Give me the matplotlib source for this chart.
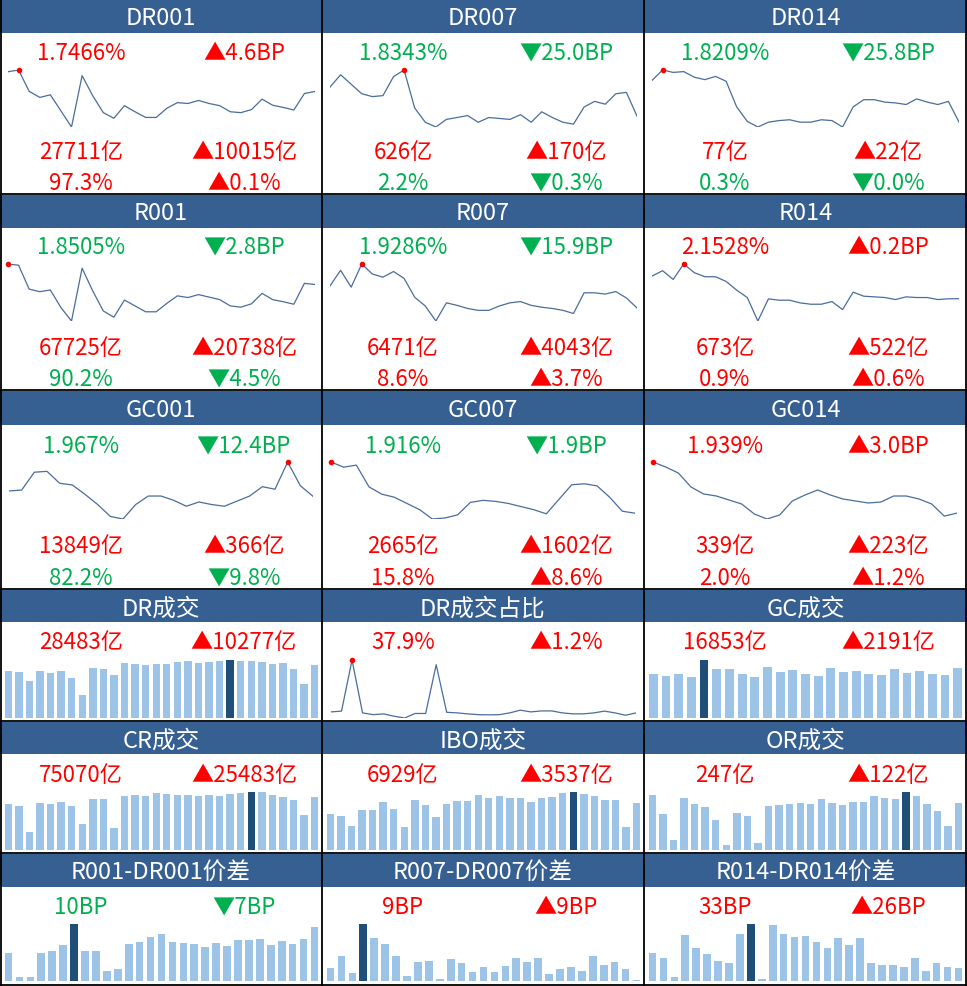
import numpy as np
import matplotlib
matplotlib.use('Agg')
import matplotlib.pyplot as plt
from matplotlib.patches import Rectangle
from matplotlib.lines import Line2D

plt.rcParams['font.family'] = ['Noto Sans CJK SC', 'DejaVu Sans']

W, H = 967, 987
HEAD = '#376092'
LINE = '#4a6d9c'
BAR = '#9dc3e6'
BAR_MAX = '#1f4e79'
RED = '#ff0000'
GREEN = '#00b050'

# ---- rate panels (rows 1-3) ----
rate_names = ['DR001', 'DR007', 'DR014', 'R001', 'R007', 'R014', 'GC001', 'GC007', 'GC014']
rate_now = [1.7466, 1.8343, 1.8209, 1.8505, 1.9286, 2.1528, 1.967, 1.916, 1.939]
rate_chg_bp = [4.6, -25.0, -25.8, -2.8, -15.9, 0.2, -12.4, -1.9, 3.0]
vol_now = [27711, 626, 77, 67725, 6471, 673, 13849, 2665, 339]
vol_chg = [10015, 170, 22, 20738, 4043, 522, 366, 1602, 223]
share_now = [97.3, 2.2, 0.3, 90.2, 8.6, 0.9, 82.2, 15.8, 2.0]
share_chg = [0.1, -0.3, -0.0, -4.5, 3.7, 0.6, -9.8, 8.6, 1.2]

dr001 = [2.20, 2.24, 1.75, 1.61, 1.67, 1.30, 0.93, 2.11, 1.65, 1.26, 1.13, 1.42, 1.28, 1.15, 1.15,
         1.36, 1.49, 1.47, 1.54, 1.47, 1.42, 1.28, 1.26, 1.33, 1.57, 1.43, 1.38, 1.32, 1.70, 1.7466]
dr007 = [2.14, 2.27, 2.17, 2.07, 2.04, 2.05, 2.25, 2.32, 1.92, 1.77, 1.72, 1.80, 1.82, 1.84, 1.77,
         1.82, 1.81, 1.80, 1.85, 1.77, 1.88, 1.82, 1.77, 1.75, 1.93, 1.99, 1.96, 2.07, 2.0843, 1.8343]
dr014 = [2.34, 2.47, 2.44, 2.45, 2.38, 2.35, 2.39, 2.33, 2.01, 1.83, 1.76, 1.82, 1.84, 1.85, 1.82,
         1.82, 1.85, 1.84, 1.76, 2.01, 2.10, 2.10, 2.07, 2.06, 2.04, 2.11, 2.07, 2.04, 2.0789, 1.8209]
r001 = [2.34, 2.31, 1.74, 1.68, 1.72, 1.30, 0.98, 2.24, 1.70, 1.22, 1.07, 1.48, 1.34, 1.20, 1.20,
        1.40, 1.58, 1.54, 1.61, 1.55, 1.49, 1.34, 1.31, 1.39, 1.64, 1.49, 1.44, 1.38, 1.8785, 1.8505]
r007 = [2.28, 2.53, 2.26, 2.63, 2.47, 2.42, 2.51, 2.40, 2.10, 1.96, 1.72, 2.01, 1.97, 1.92, 1.89,
        1.89, 1.96, 2.01, 2.03, 1.97, 1.94, 1.92, 1.89, 1.84, 2.17, 2.17, 2.15, 2.19, 2.0876, 1.9286]
r014 = [2.49, 2.57, 2.44, 2.67, 2.54, 2.48, 2.48, 2.41, 2.28, 2.17, 1.82, 2.15, 2.13, 2.13, 2.09,
        2.07, 2.07, 2.11, 1.99, 2.25, 2.19, 2.18, 2.17, 2.14, 2.18, 2.17, 2.17, 2.14, 2.1508, 2.1528]
gc001 = [2.03, 2.04, 2.25, 2.26, 2.12, 2.10, 1.99, 1.87, 1.73, 1.70, 1.87, 1.97, 1.97, 1.92, 1.85,
         1.90, 1.87, 1.85, 1.91, 1.97, 2.08, 2.05, 2.37, 2.091, 1.967]
gc007 = [2.41, 2.36, 2.38, 2.17, 2.10, 2.07, 2.01, 1.95, 1.86, 1.87, 1.90, 2.02, 2.04, 2.03, 2.01,
         1.98, 1.95, 1.91, 2.05, 2.19, 2.20, 2.18, 2.07, 1.935, 1.916]
gc014 = [2.45, 2.40, 2.34, 2.20, 2.13, 2.11, 2.07, 2.03, 1.93, 1.88, 1.92, 2.06, 2.12, 2.17, 2.12,
         2.08, 2.06, 2.04, 2.05, 2.11, 2.11, 2.08, 2.03, 1.909, 1.939]
rate_series = [dr001, dr007, dr014, r001, r007, r014, gc001, gc007, gc014]

# ---- volume / spread panels (rows 4-6) ----
low_names = ['DR成交', 'DR成交占比', 'GC成交', 'CR成交', 'IBO成交', 'OR成交',
             'R001-DR001价差', 'R007-DR007价差', 'R014-DR014价差']
low_unit = ['亿', '%', '亿', '亿', '亿', '亿', 'BP', 'BP', 'BP']
low_now = [28483, 37.9, 16853, 75070, 6929, 247, 10, 9, 33]
low_chg = [10277, 1.2, 2191, 25483, 3537, 122, -7, 9, 26]
low_kind = ['bar', 'line', 'bar', 'bar', 'bar', 'bar', 'bar', 'bar', 'bar']

dr_vol = [25400, 24900, 20100, 25400, 24200, 25400, 21500, 12400, 26900, 26300, 23300, 29600, 29200, 28700, 29200,
          29000, 29900, 30600, 29600, 30100, 30600, 31200, 30500, 30600, 30100, 29200, 29600, 26300, 18206, 28483]
dr_share = [38.4, 38.8, 64.8, 37.9, 37.0, 37.4, 36.2, 35.3, 37.6, 37.6, 62.4, 38.2, 37.9, 37.4, 37.0,
            36.9, 37.0, 37.9, 39.3, 38.4, 38.9, 38.9, 37.9, 37.4, 37.4, 37.9, 38.8, 37.9, 36.7, 37.9]
gc_vol = [14830, 14160, 14830, 13820, 19550, 16520, 16520, 14830, 13820, 17190, 15510, 16180, 14830,
          14160, 16850, 15510, 15840, 14830, 14500, 16520, 15170, 15840, 14830, 14662, 16853]
cr_vol = [65150, 62320, 25490, 66570, 65150, 67980, 62320, 36820, 72230, 72230, 31160, 76480, 77900, 76480, 80730,
          79310, 77900, 77900, 76480, 77900, 76480, 79310, 80730, 82150, 81670, 77900, 75070, 70820, 49587, 75070]
ibo_vol = [5310, 5010, 3540, 5900, 5900, 7080, 6040, 3390, 7370, 6630, 4870, 6780, 7220, 7220, 8110,
           7670, 7960, 7670, 7670, 7080, 7670, 7810, 8400, 8550, 8260, 7960, 7370, 7370, 3392, 6929]
or_vol = [289, 189, 53, 273, 242, 226, 158, 26, 194, 179, 37, 231, 237, 242, 247,
          242, 268, 247, 237, 252, 252, 284, 273, 268, 305, 284, 242, 205, 125, 247]
sp_001 = [21.5, 2.8, 3.3, 21.5, 22.8, 27.3, 43.3, 22.8, 22.8, 7.8, 9.3, 28.3, 29.5, 33.3, 35.8,
          29.5, 29.0, 28.0, 25.8, 28.8, 26.5, 31.0, 31.0, 31.8, 27.3, 30.3, 28.0, 31.8, 40.8]
sp_007 = [10.0, 19.0, 6.3, 43.3, 32.5, 28.0, 19.0, 4.0, 14.5, 15.3, 1.8, 16.8, 13.8, 7.0, 10.8,
          7.0, 11.5, 17.5, 14.5, 17.5, 5.5, 9.3, 10.8, 7.8, 19.0, 12.3, 14.5, 9.3, 0.5]
sp_014 = [21.5, 17.5, 3.3, 35.0, 25.3, 20.5, 15.5, 14.0, 35.8, 43.3, 1.3, 42.5, 35.8, 33.3, 34.0,
          29.5, 25.3, 32.8, 27.3, 32.8, 13.3, 11.8, 11.8, 10.8, 17.5, 7.8, 13.3, 10.3, 9.5]
low_series = [dr_vol, dr_share, gc_vol, cr_vol, ibo_vol, or_vol, sp_001, sp_007, sp_014]

# ---- layout (pixels) ----
col_x = [0, 322, 644]
col_w = [322, 322, 323]
head_box = [(1, 34), (196, 229), (392, 426), (591, 623), (723, 755), (855, 888)]
head_base = [25, 220, 417, 616, 748, 880]
val_y = [60, 254, 453]
vol_y = [159, 355, 553]
share_y = [190, 386, 585]
spark_box = [(71, 128), (265, 322), (463, 520)]
low_val_y = [649, 782, 914]
low_box = [(661, 719), (793, 851), (925, 982)]

fig = plt.figure(figsize=(W / 100, H / 100), dpi=100)


def px_ax(x0, y0, x1, y1):
    ax = fig.add_axes([x0 / W, 1 - y1 / H, (x1 - x0) / W, (y1 - y0) / H])
    ax.axis('off')
    return ax


def txt(x, y, s, color, size=16):
    fig.text(x / W, 1 - y / H, s, color=color, fontsize=size, ha='center', va='baseline')


def arrow(v):
    neg = np.signbit(v)
    return ('▼' if neg else '▲'), (GREEN if neg else RED)


def spark(ax, vals):
    x = np.arange(len(vals))
    ax.plot(x, vals, color=LINE, lw=0.9)
    k = int(np.argmax(vals))
    ax.plot(k, vals[k], 'o', color=RED, ms=3, clip_on=False)
    ax.set_xlim(0, len(vals) - 1)
    ax.set_ylim(min(vals), max(vals))


names = rate_names + low_names
for i in range(18):
    r, c = divmod(i, 3)
    x0, w = col_x[c], col_w[c]
    hb = head_box[r]
    fig.add_artist(Rectangle((x0 / W, 1 - hb[1] / H), w / W, (hb[1] - hb[0]) / H,
                             transform=fig.transFigure, facecolor=HEAD, edgecolor='none'))
    txt(x0 + w / 2, head_base[r], names[i], 'white', 17)

    if i < 9:
        sym, col = arrow(rate_chg_bp[i])
        txt(x0 + 81, val_y[r], f"{rate_now[i]}%", col)
        txt(x0 + 244, val_y[r], f"{sym}{abs(rate_chg_bp[i]):.1f}BP", col)
        sym, col = arrow(vol_chg[i])
        txt(x0 + 81, vol_y[r], f"{vol_now[i]}亿", col)
        txt(x0 + 244, vol_y[r], f"{sym}{abs(vol_chg[i])}亿", col)
        sym, col = arrow(share_chg[i])
        txt(x0 + 81, share_y[r], f"{share_now[i]}%", col)
        txt(x0 + 244, share_y[r], f"{sym}{abs(share_chg[i]):.1f}%", col)
        sb = spark_box[r]
        xl, xr = (8, 315) if r < 2 else (9, 313)
        spark(px_ax(x0 + xl, sb[0], x0 + xr, sb[1]), rate_series[i])
    else:
        j = i - 9
        rr = r - 3
        u = low_unit[j]
        sym, col = arrow(low_chg[j])
        txt(x0 + 81, low_val_y[rr], f"{low_now[j]}{u}", col)
        txt(x0 + 244, low_val_y[rr], f"{sym}{abs(low_chg[j])}{u}", col)
        lb = low_box[rr]
        vals = low_series[j]
        if low_kind[j] == 'line':
            spark(px_ax(x0 + 9, lb[0], x0 + 314, lb[1]), vals)
        else:
            ax = px_ax(x0 + 3, lb[0], x0 + 320, lb[1])
            k = int(np.argmax(vals))
            colors = [BAR_MAX if n == k else BAR for n in range(len(vals))]
            ax.bar(np.arange(len(vals)), vals, width=0.7, color=colors)
            ax.set_xlim(-0.5, len(vals) - 0.5)
            ax.set_ylim(0, max(vals))

# grid lines between panels
for x in [0.8, 322, 644, 966.2]:
    fig.add_artist(Line2D([x / W, x / W], [0, 1], color='black', lw=1.3))
for y in [194.5, 390.5, 589.5, 721.5, 853.5, 986.2]:
    fig.add_artist(Line2D([0, 1], [1 - y / H, 1 - y / H], color='black', lw=1.3))

fig.savefig('out.png', dpi=100)
